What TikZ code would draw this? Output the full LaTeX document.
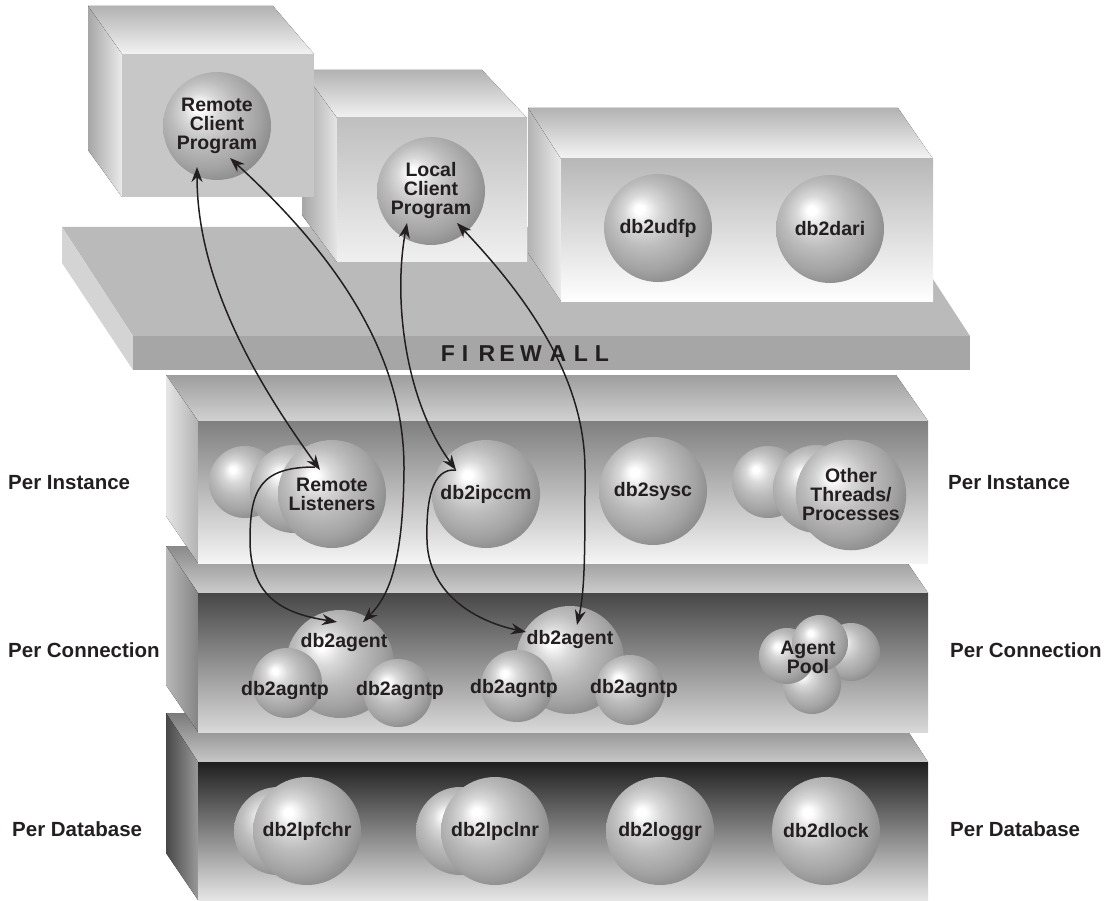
\documentclass[tikz,border=0pt]{standalone}
\usepackage{fontspec}
\setmainfont{Liberation Sans}
\usetikzlibrary{arrows.meta}
\definecolor{ink}{HTML}{231F20}
\pgfdeclareradialshading{orb}{\pgfpoint{-9bp}{9bp}}{%
  color(0bp)=(white); color(2bp)=(white); color(8bp)=(black!15);
  color(15bp)=(black!26); color(24bp)=(black!36); color(32bp)=(black!48);
  color(39bp)=(black!60); color(50bp)=(black!64)}
\tikzset{
  orb/.style={circle, shading=orb, inner sep=0pt, minimum size=#1, align=center,
    text=ink, font=\fontsize{19.5}{19}\selectfont\bfseries},
  orb/.default=108pt,
  tag/.style={inner sep=0pt, align=center, text=ink, font=\fontsize{19.5}{19}\selectfont\bfseries},
  side/.style={inner sep=0pt, anchor=west, text=ink, font=\fontsize{20.5}{22}\selectfont\bfseries},
  wall/.style={inner sep=0pt, text=ink, font=\fontsize{23}{23}\selectfont\bfseries},
  link/.style={line width=1.5pt, draw=ink, >={Stealth[length=15pt, width=11pt]}}
}
\begin{document}
\begin{tikzpicture}[x=1pt, y=-1pt]
  \useasboundingbox (0,0) rectangle (1113,901);

  % per database shelf
  \fill[top color=black!52, bottom color=black!22] (166,713) -- (896,713) -- (928,762) -- (198,762) -- cycle;
  \fill[left color=black!72, right color=black!40] (166,713) -- (198,762) -- (198,900) -- (166,853) -- cycle;
  \fill[top color=black!88, bottom color=black!10] (198,762) rectangle (928,900);

  % per connection shelf
  \fill[top color=black!46, bottom color=black!20] (166,546) -- (896,546) -- (928,593) -- (198,593) -- cycle;
  \fill[left color=black!28, right color=black!48] (166,546) -- (198,593) -- (198,732) -- (166,685) -- cycle;
  \fill[top color=black!72, bottom color=black!15] (198,593) rectangle (928,732);

  % per instance shelf
  \fill[top color=black!38, bottom color=black!18] (166,375) -- (896,375) -- (928,421) -- (198,421) -- cycle;
  \fill[left color=black!10, right color=black!30] (166,375) -- (198,421) -- (198,563) -- (166,516) -- cycle;
  \fill[top color=black!50, bottom color=black!4] (198,421) rectangle (928,563);

  % firewall slab
  \fill[black!27] (62,227) -- (899,227) -- (970,336) -- (133,336) -- cycle;
  \fill[black!17] (62,227) -- (133,336) -- (133,370) -- (62,263) -- cycle;
  \fill[black!35] (133,336) rectangle (970,370);
  \foreach \px/\ch in {448/F,465/I,487/R,507/E,531/W,558/A,581/L,602/L}
    \node[wall] (fw\px) at (\px,354) {\ch};

  % client boxes
  \fill[top color=black!30, bottom color=black!4] (528,108) -- (898,108) -- (933,159) -- (561,159) -- cycle;
  \fill[left color=black!30, right color=black!8] (528,108) -- (561,159) -- (561,301) -- (528,253) -- cycle;
  \fill[top color=black!28, bottom color=white] (561,159) rectangle (933,301);

  \fill[top color=black!30, bottom color=black!5] (302,70) -- (482,70) -- (527,118) -- (337,118) -- cycle;
  \fill[left color=black!35, right color=black!10] (302,70) -- (337,118) -- (337,262) -- (302,215) -- cycle;
  \fill[top color=black!25, bottom color=black!6] (337,118) rectangle (527,262);

  \fill[top color=black!30, bottom color=black!5] (88,6) -- (273,6) -- (314,54) -- (122,54) -- cycle;
  \fill[left color=black!35, right color=black!8] (88,6) -- (122,54) -- (122,197) -- (88,150) -- cycle;
  \fill[black!22] (122,54) rectangle (314,197);

  % processes
  \node[orb] (rcp) at (217,126) {Remote\\Client\\Program};
  \node[orb] (lcp) at (431,191) {Local\\Client\\Program};
  \node[orb] (udfp) at (658,228) {db2udfp};
  \node[orb] (dari) at (830,229) {db2dari};

  \node[orb=72pt] (rlA) at (245,482) {};
  \node[orb=88pt] (rlB) at (294,489) {};
  \node[orb] (rl) at (332,494) {Remote\\Listeners};
  \node[orb] (ipccm) at (486,494) {db2ipccm};
  \node[orb] (sysc) at (653,491) {db2sysc};
  \node[orb=72pt] (otA) at (768,482) {};
  \node[orb=88pt] (otB) at (817,489) {};
  \node[orb] (ot) at (851,495) {Other\\Threads/\\Processes};

  \node[orb] (agentA) at (340,664) {};
  \node[orb=70pt] (agntpA) at (287,683) {};
  \node[orb=68pt] (agntpB) at (398,693) {};
  \node[orb] (agentB) at (570,660) {};
  \node[orb=72pt] (agntpC) at (517,686) {};
  \node[orb=70pt] (agntpD) at (630,690) {};
  \node[orb=58pt] (poolR) at (851,652) {};
  \node[orb=58pt] (poolB) at (812,685) {};
  \node[orb=56pt] (poolL) at (787,656) {};
  \node[orb=56pt] (poolT) at (820,643) {};
  \node[tag] (agentAt) at (344,642) {db2agent};
  \node[tag] (agntpAt) at (285,690) {db2agntp};
  \node[tag] (agntpBt) at (400,690) {db2agntp};
  \node[tag] (agentBt) at (570,639) {db2agent};
  \node[tag] (agntpCt) at (514,688) {db2agntp};
  \node[tag] (agntpDt) at (634,688) {db2agntp};
  \node[tag] (poolt) at (808,657) {Agent\\Pool};

  \node[orb=88pt] (lpfA) at (278,831) {};
  \node[orb] (lpf) at (307,831) {db2lpfchr};
  \node[orb=88pt] (lpcA) at (460,831) {};
  \node[orb] (lpc) at (495,831) {db2lpclnr};
  \node[orb] (loggr) at (660,831) {db2loggr};
  \node[orb] (dlock) at (826,831) {db2dlock};

  % side labels
  \node[side] (instL) at (8,483) {Per Instance};
  \node[side] (connL) at (8,650) {Per Connection};
  \node[side] (dbL) at (12,829) {Per Database};
  \node[side] (instR) at (948,483) {Per Instance};
  \node[side] (connR) at (950,650) {Per Connection};
  \node[side] (dbR) at (950,829) {Per Database};

  % connections
  \coordinate (viaA) at (404,470);
  \coordinate (viaB) at (585,470);
  \coordinate (viaC) at (250,540);
  \coordinate (viaD) at (427,540);
  \draw[link, <->] ([shift={(-20,41)}]rcp.center) .. controls +(0,113) and +(-65,-90) .. ([shift={(-12,-24)}]rl.center);
  \draw[link, <->] ([shift={(13,32)}]rcp.center) .. controls +(100,92) and +(1,-120) .. (viaA)
    .. controls +(-1,90) and +(27,-27) .. ([shift={(23,-42)}]agentA.center);
  \draw[link, <->] ([shift={(-24,32)}]lcp.center) .. controls +(-14,77) and +(-51,-70) .. ([shift={(-30,-24)}]ipccm.center);
  \draw[link, <->] ([shift={(26,32)}]lcp.center) .. controls +(73,77) and +(0,-90) .. (viaB)
    .. controls +(0,80) and +(8,-35) .. ([shift={(7,-35)}]agentB.center);
  \draw[link, ->] ([shift={(-17,-27)}]rl.center) .. controls +(-55,0) and +(0,-50) .. (viaC)
    .. controls +(0,60) and +(-50,-8) .. ([shift={(-3,-42)}]agentA.center);
  \draw[link, ->] ([shift={(-30,-24)}]ipccm.center) .. controls +(-24,-2) and +(-1,-40) .. (viaD)
    .. controls +(1,50) and +(-56,-12) .. ([shift={(-44,-28)}]agentB.center);
\end{tikzpicture}
\end{document}
